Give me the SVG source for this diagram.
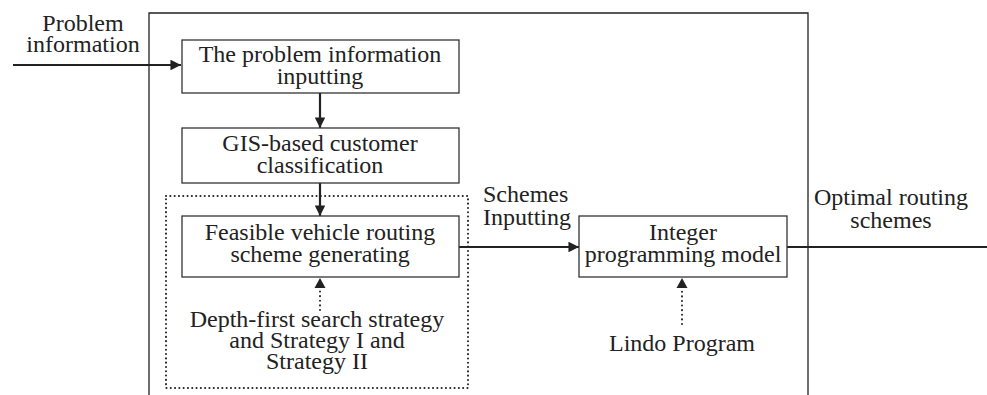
<svg xmlns="http://www.w3.org/2000/svg" width="987" height="395" viewBox="0 0 987 395">
<defs>
<style>
text{font-family:"Liberation Serif","Times New Roman",serif;font-size:24px;fill:#222;text-anchor:middle}
.box{fill:#fff;stroke:#333;stroke-width:1.3}
.frame{fill:none;stroke:#222;stroke-width:1.3}
.dot{fill:none;stroke:#222;stroke-width:2;stroke-dasharray:0.1 4.2;stroke-linecap:round}
.ln{fill:none;stroke:#222;stroke-width:2.2}
.dl{fill:none;stroke:#222;stroke-width:2;stroke-dasharray:0.1 4.5;stroke-linecap:round}
</style>
<marker id="ah" viewBox="0 0 10 10" refX="10" refY="5" markerWidth="4.8" markerHeight="4.8" orient="auto" markerUnits="strokeWidth">
<path d="M0,0 L10,5 L0,10 z" fill="#222"/>
</marker>
</defs>
<rect width="987" height="395" fill="#fff"/>
<g id="frame">
<path class="frame" d="M149,400 V13 H808 V400"/>
</g>
<g id="strategy-group">
<rect class="dot" x="166" y="196" width="302" height="192"/>
</g>
<g id="connectors">
<line class="ln" x1="13" y1="65" x2="181" y2="65" marker-end="url(#ah)"/>
<line class="ln" x1="320" y1="93" x2="320" y2="128" marker-end="url(#ah)"/>
<line class="ln" x1="320" y1="183" x2="320" y2="216" marker-end="url(#ah)"/>
<line class="dl" x1="320" y1="310" x2="320" y2="290"/>
<path d="M314.5,288 L320,278 L325.5,288 z" fill="#222"/>
<line class="ln" x1="459" y1="247" x2="579" y2="247" marker-end="url(#ah)"/>
<line class="dl" x1="682" y1="324" x2="682" y2="290"/>
<path d="M676.5,288 L682,278 L687.5,288 z" fill="#222"/>
<line class="ln" x1="787" y1="247" x2="987" y2="247"/>
</g>
<g id="n-problem-info">
<text x="83" y="31">Problem<tspan x="83" dy="21">information</tspan></text>
</g>
<g id="n-input">
<rect class="box" x="182" y="40" width="277" height="53"/>
<text x="320" y="62">The problem information<tspan x="320" dy="22">inputting</tspan></text>
</g>
<g id="n-gis">
<rect class="box" x="182" y="128" width="277" height="55"/>
<text x="320" y="151">GIS-based customer<tspan x="320" dy="22">classification</tspan></text>
</g>
<g id="n-feasible">
<rect class="box" x="182" y="216" width="277" height="61"/>
<text x="320" y="240">Feasible vehicle routing<tspan x="320" dy="22">scheme generating</tspan></text>
</g>
<g id="n-strategy">
<text x="317" y="327">Depth-first search strategy<tspan x="317" dy="21">and Strategy I and</tspan><tspan x="317" dy="21">Strategy II</tspan></text>
</g>
<g id="n-schemes-label">
<text x="483" y="202" style="text-anchor:start">Schemes<tspan x="483" dy="23">Inputting</tspan></text>
</g>
<g id="n-integer">
<rect class="box" x="579" y="216" width="208" height="61"/>
<text x="683" y="240">Integer<tspan x="683" dy="22">programming model</tspan></text>
</g>
<g id="n-lindo">
<text x="682" y="351">Lindo Program</text>
</g>
<g id="n-optimal">
<text x="891" y="205">Optimal routing<tspan x="891" dy="23">schemes</tspan></text>
</g>
</svg>
